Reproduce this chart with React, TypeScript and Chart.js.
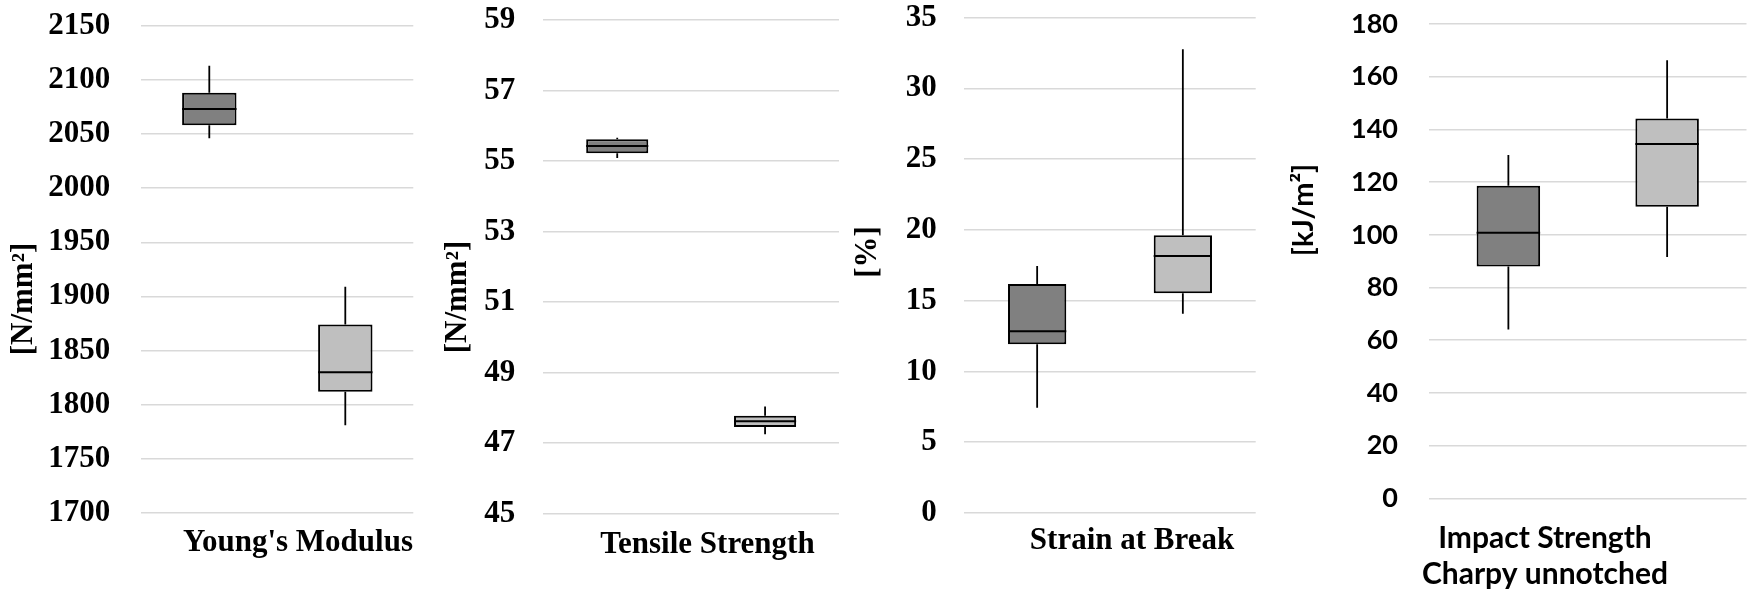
import React, { useEffect, useRef } from 'react';
import { Chart, registerables } from 'chart.js';

Chart.register(...registerables);

// ---------- data ----------
const categories: (string | string[])[] = [
  "Young's Modulus",
  'Tensile Strength',
  'Strain at Break',
  ['Impact Strength', 'Charpy unnotched'],
];
const axisUnits = ['[N/mm²]', '[N/mm²]', '[%]', '[kJ/m²]'];
const axisMin = [1700, 45, 0, 0];
const axisMax = [2150, 59, 35, 180];
const axisStep = [50, 2, 5, 20];
const seriesNames = ['Series 1', 'Series 2'];
const seriesColors = ['#808080', '#BFBFBF'];

// five-number summaries per series: [min, q1, median, q3, max]
const youngsModulus = [
  [2046, 2058, 2073, 2088, 2113],
  [1781, 1812, 1830, 1874, 1909],
];
const tensileStrength = [
  [55.09, 55.22, 55.43, 55.62, 55.66],
  [47.25, 47.46, 47.62, 47.78, 48.04],
];
const strainAtBreak = [
  [7.44, 11.92, 12.84, 16.18, 17.45],
  [14.08, 15.52, 18.16, 19.62, 32.77],
];
const impactStrength = [
  [64.1, 88.0, 100.8, 118.6, 130.3],
  [91.6, 110.6, 134.5, 144.1, 166.2],
];
const panelStats = [youngsModulus, tensileStrength, strainAtBreak, impactStrength];

// ---------- layout / style ----------
const PAGE_H = 594;
const SERIF = '"Liberation Serif", "Times New Roman", serif';
const SANS = 'Lato, Carlito, Calibri, sans-serif';

type Layout = {
  canvasLeft: number; canvasWidth: number;
  gridLeft: number; gridRight: number; gridTop: number; gridBottom: number;
  tickPad: number; titleX: number; titleY: number;
  labelOffset: number; labelPad: number;
  family: string; tickSize: number; labelSize: number; titleSize: number;
  xLineHeight: number; barPct: number;
};

const layouts: Layout[] = [
  { canvasLeft: 0, canvasWidth: 430, gridLeft: 141.3, gridRight: 413.3, gridTop: 25.7, gridBottom: 513,
    tickPad: 31, titleX: 24, titleY: 299, labelOffset: 20.7, labelPad: 11.4,
    family: SERIF, tickSize: 31, labelSize: 31, titleSize: 31, xLineHeight: 1.2, barPct: 0.4 },
  { canvasLeft: 430, canvasWidth: 420, gridLeft: 543.3, gridRight: 839, gridTop: 20, gridBottom: 513.7,
    tickPad: 28, titleX: 458, titleY: 297, labelOffset: 16.3, labelPad: 12.2,
    family: SERIF, tickSize: 31, labelSize: 31, titleSize: 31, xLineHeight: 1.2, barPct: 0.42 },
  { canvasLeft: 850, canvasWidth: 440, gridLeft: 964.3, gridRight: 1255.7, gridTop: 17.7, gridBottom: 513,
    tickPad: 27.6, titleX: 868, titleY: 252, labelOffset: 22, labelPad: 9.4,
    family: SERIF, tickSize: 31, labelSize: 31, titleSize: 31, xLineHeight: 1.2, barPct: 0.4 },
  { canvasLeft: 1290, canvasWidth: 458, gridLeft: 1429, gridRight: 1746.5, gridTop: 24, gridBottom: 498.3,
    tickPad: 31, titleX: 1304, titleY: 210, labelOffset: -42.8, labelPad: 21.3,
    family: SANS, tickSize: 27, labelSize: 30, titleSize: 29, xLineHeight: 36.7 / 30, barPct: 0.4 },
];

function makeBoxPlugin(stats: number[][]) {
  return {
    id: 'boxWhiskers',
    afterDatasetsDraw(chart: any) {
      const ctx = chart.ctx;
      const y = chart.scales.y;
      ctx.save();
      ctx.strokeStyle = '#000';
      stats.forEach((s, i) => {
        const meta = chart.getDatasetMeta(i);
        const bar = meta.data[0];
        if (!bar) return;
        const { x, width } = bar.getProps(['x', 'width'], true);
        const [mn, q1, med, q3, mx] = s;
        // whiskers
        ctx.lineWidth = 1.8;
        ctx.beginPath();
        ctx.moveTo(x, y.getPixelForValue(q3));
        ctx.lineTo(x, y.getPixelForValue(mx));
        ctx.moveTo(x, y.getPixelForValue(q1));
        ctx.lineTo(x, y.getPixelForValue(mn));
        ctx.stroke();
        // median
        ctx.lineWidth = 2;
        const ym = y.getPixelForValue(med);
        ctx.beginPath();
        ctx.moveTo(x - width / 2, ym);
        ctx.lineTo(x + width / 2, ym);
        ctx.stroke();
      });
      ctx.restore();
    },
  };
}

function makeTitlePlugin(text: string, L: Layout) {
  return {
    id: 'yTitle',
    afterDraw(chart: any) {
      const ctx = chart.ctx;
      ctx.save();
      ctx.translate(L.titleX - L.canvasLeft, L.titleY);
      ctx.rotate(-Math.PI / 2);
      ctx.textAlign = 'center';
      ctx.textBaseline = 'middle';
      ctx.fillStyle = '#000';
      ctx.font = `bold ${L.titleSize}px ${L.family}`;
      ctx.fillText(text, 0, 0);
      ctx.restore();
    },
  };
}

function BoxPanel({ idx }: { idx: number }) {
  const ref = useRef<HTMLCanvasElement>(null);
  const L = layouts[idx];
  useEffect(() => {
    const stats = panelStats[idx];
    const chart = new Chart(ref.current as HTMLCanvasElement, {
      type: 'bar',
      data: {
        labels: [categories[idx]],
        datasets: stats.map((s, i) => ({
          label: seriesNames[i],
          data: [[s[1], s[3]]],
          backgroundColor: seriesColors[i],
          borderColor: '#000',
          borderWidth: 2,
          borderSkipped: false,
          barPercentage: L.barPct,
          categoryPercentage: 1,
        })) as any,
      },
      options: {
        animation: false,
        responsive: false,
        devicePixelRatio: 1,
        events: [],
        font: { family: L.family, weight: 'bold' },
        layout: {
          padding: {
            top: L.gridTop,
            left: 0,
            bottom: 0,
            right: L.canvasLeft + L.canvasWidth - L.gridRight,
          },
        },
        plugins: {
          legend: { display: false },
          tooltip: { enabled: false },
          title: { display: false },
        },
        scales: {
          x: {
            grid: { display: false, drawTicks: false },
            border: { display: false },
            ticks: {
              color: '#000',
              font: { family: L.family, size: L.labelSize, weight: 'bold', lineHeight: L.xLineHeight },
              padding: L.labelPad,
              labelOffset: L.labelOffset,
              maxRotation: 0,
              minRotation: 0,
              autoSkip: false,
            },
            afterFit: (s: any) => { s.height = PAGE_H - L.gridBottom; },
          },
          y: {
            min: axisMin[idx],
            max: axisMax[idx],
            grid: {
              color: '#D9D9D9',
              lineWidth: 1.5,
              drawTicks: true,
              tickLength: L.tickPad,
              tickColor: 'rgba(0,0,0,0)',
            },
            border: { display: false },
            ticks: {
              stepSize: axisStep[idx],
              color: '#000',
              font: { family: L.family, size: L.tickSize, weight: 'bold', lineHeight: 1 },
              padding: 0,
              callback: (v: any) => String(v),
            },
            afterFit: (s: any) => { s.width = L.gridLeft - L.canvasLeft; },
          },
        },
      } as any,
      plugins: [makeBoxPlugin(stats), makeTitlePlugin(axisUnits[idx], L)],
    });
    return () => chart.destroy();
  }, [idx]);
  return (
    <canvas
      ref={ref}
      width={L.canvasWidth}
      height={PAGE_H}
      style={{ position: 'absolute', left: L.canvasLeft, top: 0, width: L.canvasWidth, height: PAGE_H }}
    />
  );
}

export default function App() {
  useEffect(() => {
    document.body.style.margin = '0';
    document.body.style.background = '#fff';
  }, []);
  return (
    <div style={{ position: 'fixed', left: 0, top: 0, width: 1748, height: PAGE_H, background: '#fff', overflow: 'hidden' }}>
      {layouts.map((_, i) => (
        <BoxPanel key={i} idx={i} />
      ))}
    </div>
  );
}
